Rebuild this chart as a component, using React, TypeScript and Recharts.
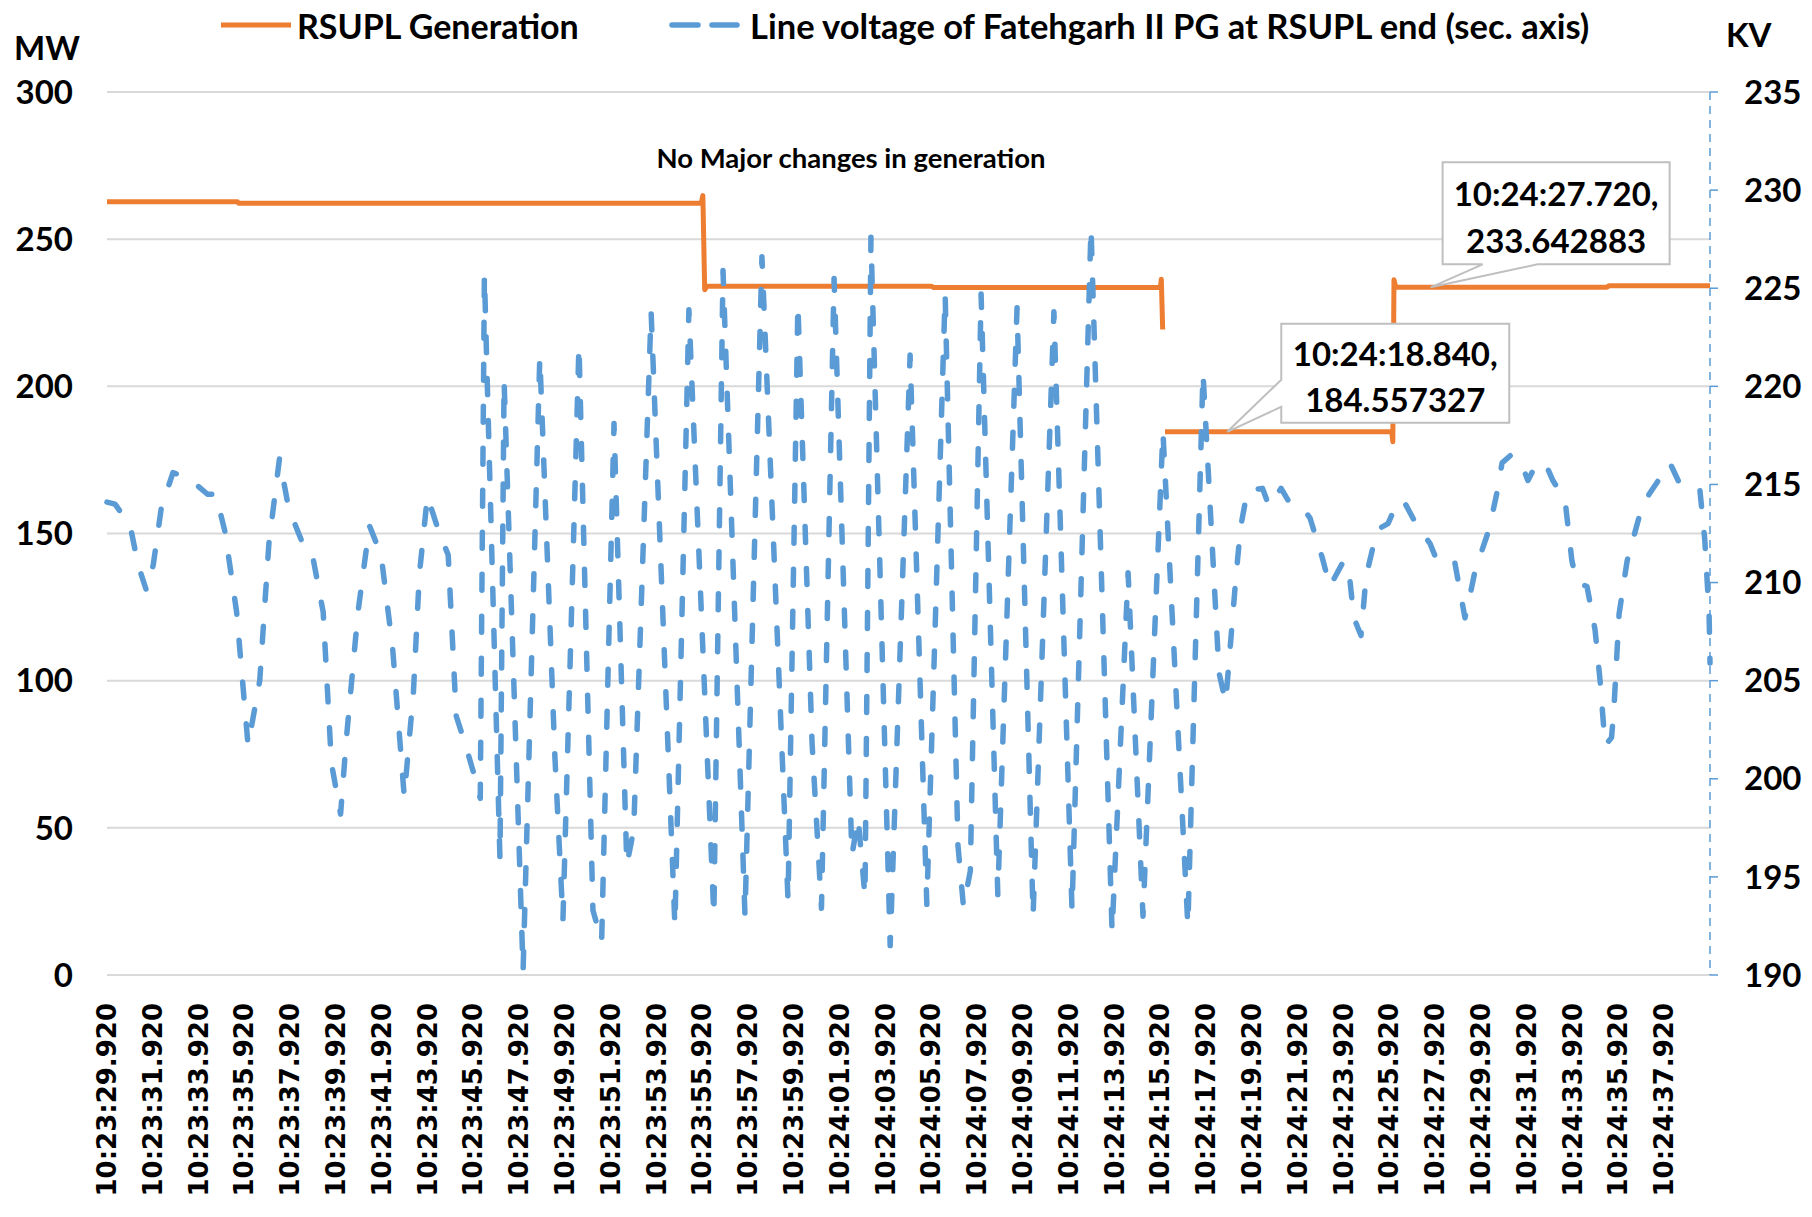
import React from "react";
import { ComposedChart, Line, XAxis, YAxis, CartesianGrid, ReferenceDot } from "recharts";

// x axis is seconds after 10:23:29.920, labels every 2 s
const timeLabels = [
  "10:23:29.920", "10:23:31.920", "10:23:33.920", "10:23:35.920", "10:23:37.920",
  "10:23:39.920", "10:23:41.920", "10:23:43.920", "10:23:45.920", "10:23:47.920",
  "10:23:49.920", "10:23:51.920", "10:23:53.920", "10:23:55.920", "10:23:57.920",
  "10:23:59.920", "10:24:01.920", "10:24:03.920", "10:24:05.920", "10:24:07.920",
  "10:24:09.920", "10:24:11.920", "10:24:13.920", "10:24:15.920", "10:24:17.920",
  "10:24:19.920", "10:24:21.920", "10:24:23.920", "10:24:25.920", "10:24:27.920",
  "10:24:29.920", "10:24:31.920", "10:24:33.920", "10:24:35.920", "10:24:37.920",
];
const tickSeconds = timeLabels.map((_, i) => i * 2);

const mwTicks = [0, 50, 100, 150, 200, 250, 300];
const kvTicks = [190, 195, 200, 205, 210, 215, 220, 225, 230, 235];

// RSUPL Generation (MW)
const genTimes = [0, 5.7, 5.75, 25.95, 26.02, 26.1, 26.2, 36.0, 36.1, 46.0, 46.04, 46.1, 46.14, 46.2, 56.1, 56.15, 56.2, 56.28, 65.5, 65.6, 70];
const genMW = [262.7, 262.7, 262.2, 262.2, 264.8, 232.8, 234.0, 234.0, 233.6, 233.6, 236.4, 219.3, null, 184.6, 184.6, 181.2, 236.2, 233.7, 233.7, 234.2, 234.2];

// Line voltage of Fatehgarh II PG (kV)
const voltTimes = [
  0, 0.35, 1.01, 1.36, 1.72, 2.02, 2.37, 2.88, 3.38, 3.89, 4.39, 4.75, 5.15, 5.66, 6.16, 6.67, 7.07, 7.53, 7.93, 8.54,
  8.94, 9.44, 9.8, 10.2, 10.45, 10.96, 11.46, 11.97, 12.47, 12.98, 13.38, 13.64, 13.99, 14.49, 14.9, 15.25, 15.66, 16.01, 16.3,
  16.48, 17.16, 17.34, 18.17, 18.9, 19.56, 19.91, 20.61, 21.22, 21.6, 22.14, 22.7, 23.0, 23.76, 24.8, 25.41, 26.5, 26.9,
  27.86, 28.6, 29.74, 30.17, 30.79, 31.2, 31.75, 32.53, 32.8, 33.1, 33.36, 34.2, 35.07, 35.8, 36.6, 37.16, 37.4, 37.7,
  38.17, 38.9, 39.74, 40.44, 41.35, 42.14, 42.97, 43.89, 44.59, 45.24, 46.11, 47.2, 47.86, 48.56, 48.85, 49.3, 49.5, 49.8,
  50.46, 50.74, 51.27, 51.57, 52.15, 52.53, 53.06, 53.4, 54.0, 54.24, 54.45, 54.76, 54.98, 55.46, 55.94, 56.38, 56.7,
  57.25, 57.77, 58.12, 58.86, 59.0, 59.3, 59.6, 59.74, 60.35, 60.7, 60.92, 61.31, 61.75, 62.05, 62.4, 62.8, 63.14, 63.67,
  63.97, 64.19, 64.63, 64.98, 65.2, 65.42, 65.7, 65.8, 66.03, 66.38, 66.99, 67.34, 68.03, 68.25, 68.73, 69.56, 69.77, 69.96, 70,
];
const voltKV = [
  214.1, 214.0, 212.9, 210.9, 209.6, 210.9, 213.8, 215.6, 215.4, 215.0, 214.5, 214.5, 212.6, 208.5, 201.7, 205.0, 212.0, 216.3, 213.8, 212.0,
  211.6, 208.5, 200.8, 198.2, 202.0, 208.5, 212.9, 211.4, 206.7, 199.1, 204.4, 210.4, 214.4, 212.6, 211.4, 203.2, 201.7, 200.3, 199.0,
  225.7, 195.9, 220.3, 190.2, 221.5, 201.1, 192.8, 222.1, 193.3, 191.7, 218.1, 195.6, 197.4, 223.8, 192.5, 223.9, 193.0, 225.9,
  193.0, 226.6, 193.8, 224.2, 201.8, 193.4, 225.5, 196.1, 198.0, 194.0, 227.6, 191.5, 221.6, 193.6, 224.7, 196.6, 193.5, 195.3,
  224.7, 194.1, 224.0, 193.0, 223.8, 193.3, 228.1, 192.2, 210.5, 193.0, 217.7, 192.5, 220.7, 205.4, 203.9, 210.3, 212.8, 214.7,
  214.8, 213.9, 214.8, 214.2, 213.9, 213.3, 211.3, 209.8, 211.1, 210.5, 208.2, 207.3, 210.3, 212.7, 213.0, 214.2, 214.0,
  212.8, 212.0, 211.0, 211.0, 210.1, 208.2, 209.8, 210.6, 212.7, 214.6, 216.1, 216.5, 216.1, 215.2, 216.0, 216.1, 215.2, 214.2,
  211.1, 210.0, 209.8, 207.6, 205.0, 201.7, 202.1, 203.5, 208.4, 211.1, 213.7, 214.5, 215.7, 216.1, 214.9, 214.7, 212.2, 208.4, 205.9,
];

const calloutTimes = [48.92, 57.8];
const calloutMW = [184.557327, 233.642883];
const calloutLabels = ["10:24:18.840,", "10:24:27.720,"];
const calloutValues = ["184.557327", "233.642883"];

const genData = genTimes.map((t, i) => ({ t, mw: genMW[i] }));
const voltData = voltTimes.map((t, i) => ({ t, kv: voltKV[i] }));

const ORANGE = "#ED7D31";
const BLUE = "#5B9BD5";
const FONT = "Lato, 'Open Sans', sans-serif";

const TimeTick = (props: any) => {
  const { x, y, payload } = props;
  const label = timeLabels[Math.round(payload.value / 2)];
  return (
    <text
      x={x}
      y={y}
      transform={`rotate(-90, ${x}, ${y})`}
      textAnchor="end"
      dominantBaseline="central"
      fontFamily="'DejaVu Sans', Verdana, sans-serif"
      fontWeight={700}
      fontSize={26}
      fill="#000"
    >
      {label}
    </text>
  );
};

// data label box with a pointer, drawn relative to the point
const Callout = ({ cx, cy, idx }: { cx: number; cy: number; idx: number }) => {
  let L: number, T: number, W: number, H: number, d: string;
  if (idx === 0) {
    L = cx + 54; T = cy - 108; W = 228; H = 99;
    d = `M${L},${T} H${L + W} V${T + H} H${L} V${cy - 25} L${cx},${cy} L${L},${cy - 52} Z`;
  } else {
    L = cx + 12; T = cy - 125; W = 227; H = 102;
    d = `M${L},${T} H${L + W} V${T + H} H${cx + 107} L${cx},${cy} L${cx + 52},${T + H} H${L} Z`;
  }
  const mid = L + W / 2;
  return (
    <g>
      <path d={d} fill="#fff" stroke="#bfbfbf" strokeWidth={2} />
      <text x={mid} y={T + H * 0.3} textAnchor="middle" dominantBaseline="central"
        fontFamily={FONT} fontWeight={700} fontSize={33} fill="#000">{calloutLabels[idx]}</text>
      <text x={mid} y={T + H * 0.76} textAnchor="middle" dominantBaseline="central"
        fontFamily={FONT} fontWeight={700} fontSize={33} fill="#000">{calloutValues[idx]}</text>
    </g>
  );
};

export default function App() {
  const tickStyle = { fontFamily: FONT, fontWeight: 700, fontSize: 33, fill: "#000" };
  return (
    <div style={{ position: "absolute", left: 0, top: 0, width: 1812, height: 1217, background: "#fff", fontFamily: FONT }}>
      <ComposedChart width={1812} height={1217} margin={{ top: 92, right: 12, bottom: 0, left: 27 }}>
        <CartesianGrid vertical={false} stroke="#d9d9d9" strokeWidth={2} />
        <XAxis
          dataKey="t"
          type="number"
          domain={[0, 70]}
          ticks={tickSeconds}
          interval={0}
          height={242}
          axisLine={false}
          tickLine={false}
          tickSize={0}
          tickMargin={28}
          tick={<TimeTick />}
        />
        <YAxis
          domain={[0, 300]}
          ticks={mwTicks}
          width={80}
          axisLine={false}
          tickLine={false}
          tickSize={0}
          tickMargin={34}
          tick={tickStyle}
        />
        <YAxis
          yAxisId="kv"
          orientation="right"
          domain={[190, 235]}
          ticks={kvTicks}
          width={90}
          axisLine={{ stroke: BLUE, strokeWidth: 1.5, strokeDasharray: "8 6" }}
          tickLine={{ stroke: BLUE, strokeWidth: 1.5 }}
          tickSize={8}
          tickMargin={26}
          tick={tickStyle}
        />
        <Line
          data={genData}
          dataKey="mw"
          type="linear"
          stroke={ORANGE}
          strokeWidth={5}
          strokeLinejoin="round"
          dot={false}
          activeDot={false}
          connectNulls={false}
          isAnimationActive={false}
        />
        <Line
          data={voltData}
          dataKey="kv"
          yAxisId="kv"
          type="linear"
          stroke={BLUE}
          strokeWidth={5.5}
          strokeDasharray="16 26"
          strokeLinecap="round"
          strokeLinejoin="round"
          dot={false}
          activeDot={false}
          isAnimationActive={false}
        />
        {calloutTimes.map((t, i) => (
          <ReferenceDot
            key={i}
            x={t}
            y={calloutMW[i]}
            r={0}
            ifOverflow="visible"
            shape={(p: any) => <Callout cx={p.cx} cy={p.cy} idx={i} />}
          />
        ))}
      </ComposedChart>
      <svg width={1812} height={1217} style={{ position: "absolute", left: 0, top: 0, pointerEvents: "none" }}>
        <line x1={221} y1={25} x2={291} y2={25} stroke={ORANGE} strokeWidth={5} />
        <text x={297} y={25} dominantBaseline="central" fontFamily={FONT} fontWeight={700} fontSize={34}>RSUPL Generation</text>
        <line x1={672} y1={25} x2={737} y2={25} stroke={BLUE} strokeWidth={5.5} strokeDasharray="26 14" strokeLinecap="round" />
        <text x={750} y={25} dominantBaseline="central" fontFamily={FONT} fontWeight={700} fontSize={34.5}>
          Line voltage of Fatehgarh II PG at RSUPL end (sec. axis)
        </text>
        <text x={14} y={47} dominantBaseline="central" fontFamily={FONT} fontWeight={700} fontSize={33}>MW</text>
        <text x={1726} y={34} dominantBaseline="central" fontFamily={FONT} fontWeight={700} fontSize={33}>KV</text>
        <text x={851} y={157} textAnchor="middle" dominantBaseline="central" fontFamily={FONT} fontWeight={700} fontSize={27.5}>
          No Major changes in generation
        </text>
      </svg>
    </div>
  );
}
